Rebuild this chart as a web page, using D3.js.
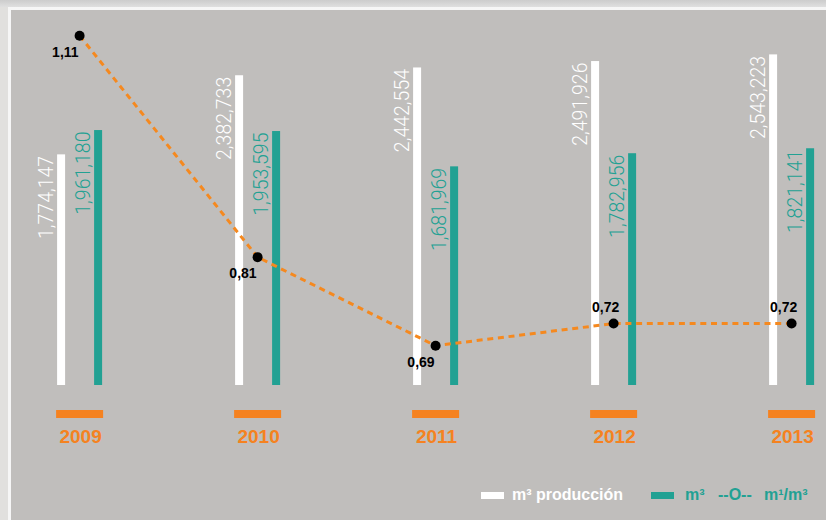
<!DOCTYPE html>
<html>
<head>
<meta charset="utf-8">
<script src="https://cdn.jsdelivr.net/npm/d3@7"></script>
<style>
  body { margin: 0; background: #e1e0de; }
  svg { display: block; }
</style>
</head>
<body>
<div class="chart"></div>
<script>
// data
var years = ["2009", "2010", "2011", "2012", "2013"];
var produccion = [1774147, 2382733, 2442554, 2491926, 2543223];
var consumo = [1961180, 1953595, 1681969, 1782956, 1821141];
var ratio = [1.11, 0.81, 0.69, 0.72, 0.72];

var width = 826, height = 520;
var white = "#ffffff", teal = "#22a193", orange = "#f58220", lineOrange = "#f5891f";

var svg = d3.select(".chart").append("svg")
    .attr("width", width)
    .attr("height", height);

// frame
var defs = svg.append("defs");
var grad = defs.append("linearGradient").attr("id", "topShade")
    .attr("x1", 0).attr("y1", 0).attr("x2", 0).attr("y2", 1);
grad.append("stop").attr("offset", "0%").attr("stop-color", "#cccccc");
grad.append("stop").attr("offset", "100%").attr("stop-color", "#dfdfdf");

svg.append("rect").attr("width", width).attr("height", height).attr("fill", "#e1e0de");
svg.append("rect").attr("width", width).attr("height", 7).attr("fill", "url(#topShade)");
svg.append("rect").attr("x", 8).attr("y", 7).attr("width", width - 8).attr("height", height - 7).attr("fill", "#f6f6f6");
svg.append("rect").attr("x", 11).attr("y", 10).attr("width", width - 11).attr("height", height - 10).attr("fill", "#c0bebc");

// scales
var x = d3.scalePoint()
    .domain(years)
    .range([79.6, 791.6]);

var y = d3.scaleLinear()
    .domain([0, 2600000])
    .range([385, 47]);

var yRatio = d3.scaleLinear()
    .domain([0.69, 1.11])
    .range([345.7, 35.7]);

var barW = 8, barOff = 18.5;
var fmtThousands = d3.format(",");
var fmtDec = d3.formatLocale({decimal: ",", thousands: ".", grouping: [3], currency: ["", ""]}).format(".2f");

var rows = years.map(function(yr, i) {
    return {year: yr, prod: produccion[i], cons: consumo[i], ratio: ratio[i], i: i};
});

var chart = svg.append("g");

// bars
var series = [
    {key: "prod", color: white, off: -barOff},
    {key: "cons", color: teal, off: barOff}
];

series.forEach(function(s) {
    var g = chart.append("g");
    g.selectAll("rect")
        .data(rows)
        .enter().append("rect")
        .attr("x", function(d) { return x(d.year) + s.off - barW / 2; })
        .attr("y", function(d) { return y(d[s.key]); })
        .attr("width", barW)
        .attr("height", function(d) { return y(0) - y(d[s.key]); })
        .attr("fill", s.color);

    g.selectAll("text")
        .data(rows)
        .enter().append("text")
        .attr("transform", function(d) {
            return "translate(" + (x(d.year) + s.off - barW / 2 - 4) + "," + (y(d[s.key]) + 1.5) + ") rotate(-90)";
        })
        .attr("text-anchor", "end")
        .attr("font-family", "Roboto, 'Liberation Sans', sans-serif")
        .attr("font-weight", 300)
        .attr("font-size", "19.5px")
        .attr("fill", s.color)
        .text(function(d) { return fmtThousands(d[s.key]); });
});

// ratio line
var line = d3.line()
    .x(function(d) { return x(d.year); })
    .y(function(d) { return yRatio(d.ratio); });

chart.append("path")
    .datum(rows)
    .attr("d", line)
    .attr("fill", "none")
    .attr("stroke", lineOrange)
    .attr("stroke-width", 3)
    .attr("stroke-dasharray", "6,4.7");

chart.append("g").selectAll("circle")
    .data(rows)
    .enter().append("circle")
    .attr("cx", function(d) { return x(d.year); })
    .attr("cy", function(d) { return yRatio(d.ratio); })
    .attr("r", 5)
    .attr("fill", "#000");

// first three labels sit below the dot, last two above
chart.append("g").selectAll("text")
    .data(rows)
    .enter().append("text")
    .attr("x", function(d) { return d.i < 3 ? x(d.year) - 1 : x(d.year) - 8; })
    .attr("y", function(d) { return d.i < 3 ? yRatio(d.ratio) + 21 : yRatio(d.ratio) - 12; })
    .attr("text-anchor", function(d) { return d.i < 3 ? "end" : "middle"; })
    .attr("font-family", "'Liberation Sans', Arial, sans-serif")
    .attr("font-weight", "bold")
    .attr("font-size", "14px")
    .attr("fill", "#000")
    .text(function(d) { return fmtDec(d.ratio); });

// year axis
var axis = chart.append("g");
axis.selectAll("rect")
    .data(years)
    .enter().append("rect")
    .attr("x", function(d) { return x(d) - 23.5; })
    .attr("y", 410)
    .attr("width", 47)
    .attr("height", 8)
    .attr("fill", orange);

axis.selectAll("text")
    .data(years)
    .enter().append("text")
    .attr("x", function(d) { return x(d) + 1; })
    .attr("y", 442.5)
    .attr("text-anchor", "middle")
    .attr("font-family", "'Liberation Sans', Arial, sans-serif")
    .attr("font-weight", "bold")
    .attr("font-size", "19px")
    .attr("fill", orange)
    .text(function(d) { return d; });

// legend
var legend = svg.append("g")
    .attr("font-family", "'Liberation Sans', Arial, sans-serif")
    .attr("font-weight", "bold")
    .attr("font-size", "16px");

legend.append("rect").attr("x", 481).attr("y", 492).attr("width", 23).attr("height", 7).attr("fill", white);
legend.append("text").attr("x", 512).attr("y", 500).attr("fill", white).text("m³ producción");

legend.append("rect").attr("x", 651).attr("y", 492).attr("width", 23).attr("height", 7).attr("fill", teal);
legend.append("text").attr("x", 685).attr("y", 500).attr("fill", teal).text("m³");
legend.append("text").attr("x", 718).attr("y", 500).attr("fill", teal).text("--O--");
legend.append("text").attr("x", 764).attr("y", 500).attr("fill", teal).text("m¹/m³");
</script>
</body>
</html>
